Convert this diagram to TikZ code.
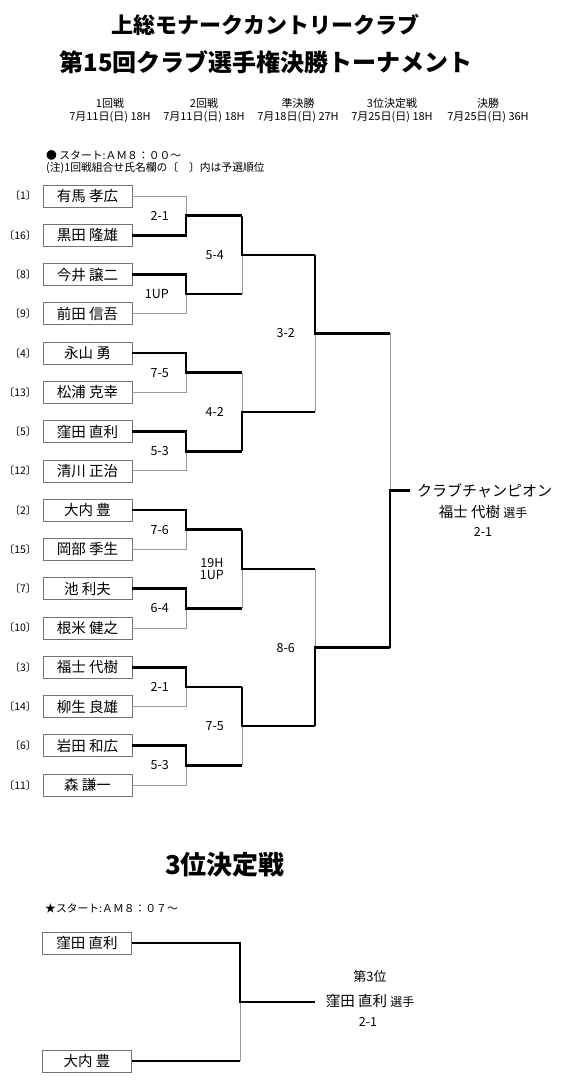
\documentclass[tikz,border=0pt]{standalone}
\usepackage{fontspec}
\setmainfont{Noto Sans CJK JP}
\usetikzlibrary{positioning, calc}

\begin{document}
\begin{tikzpicture}[x=1pt, y=-1pt,
    giocatore/.style={draw=black!55, line width=0.7pt, minimum width=89pt,
        minimum height=22pt, inner sep=0pt, font=\fontsize{14.5}{15}\selectfont},
    seme/.style={inner sep=0pt, font=\fontsize{10.5}{11}\selectfont},
    vincente/.style={line width=2.6pt, line join=miter},
    perdente/.style={draw=black!40, line width=0.8pt},
    risultato/.style={inner sep=0pt, align=center, font=\fontsize{12.5}{12.5}\selectfont},
    titolo/.style={inner sep=0pt, font=\fontsize{24}{26}\selectfont\bfseries},
    nota/.style={inner sep=0pt, anchor=west, font=\fontsize{10.8}{11}\selectfont},
    testata/.style={inner sep=0pt, font=\fontsize{11}{12}\selectfont}]
    % ==========================================
    % PARAMETRI GEOMETRICI
    % ==========================================
    \def\yTop{196}   % centro del primo riquadro
    \def\passo{39.27} % distanza tra i riquadri
    \def\xA{186}     % verticale 1 turno
    \def\xB{242}     % verticale 2 turno
    \def\xC{315}     % verticale semifinale
    \def\xD{390}     % verticale finale
    \def\xE{410}     % fine linea campione

    \useasboundingbox (0,0) rectangle (568,1091);
    \fill[white] (0,0) rectangle (568,1091);

    % ==========================================
    % MACRO PER UN INCONTRO
    % #1 = estremo del perdente
    % #2 = estremo del vincitore
    % #3 = punto di incontro
    % #4 = punto del turno seguente
    % ==========================================
    \newcommand{\incontro}[4]{
        \draw[perdente] (#1) -| (#3);
        \draw[vincente] (#2) -| (#3) -- (#4 |- #3);
    }

    % ==========================================
    % TITOLO E TESTATA
    % ==========================================
    \node[titolo, font=\fontsize{22}{26}\selectfont\bfseries] (titolo1) at (265,25) {上総モナークカントリークラブ};
    \node[titolo] (titolo2) at (266,62) {第15回クラブ選手権決勝トーナメント};

    \foreach \i/\xt/\turno/\giorno in {1/110/1回戦/7月11日(日) 18H,
        2/204/2回戦/7月11日(日) 18H, 3/298/準決勝/7月18日(日) 27H,
        4/392/3位決定戦/7月25日(日) 18H, 5/488/決勝/7月25日(日) 36H} {
        \node[testata] (turno\i) at (\xt,103) {\turno};
        \node[testata] (giorno\i) at (\xt,117) {\giorno};
    }

    \node[nota] (nota1) at (46,155) {● スタート:ＡＭ８：００～};
    \node[nota] (nota2) at (46,168) {(注)1回戦組合せ氏名欄の〔　〕内は予選順位};

    % ==========================================
    % GIOCATORI E PUNTI DI INCONTRO
    % ==========================================
    \foreach \n/\seme/\nome in {1/1/有馬 孝広, 2/16/黒田 隆雄, 3/8/今井 譲二,
        4/9/前田 信吾, 5/4/永山 勇, 6/13/松浦 克幸, 7/5/窪田 直利,
        8/12/清川 正治, 9/2/大内 豊, 10/15/岡部 季生, 11/7/池 利夫,
        12/10/根米 健之, 13/3/福士 代樹, 14/14/柳生 良雄, 15/6/岩田 和広,
        16/11/森 謙一} {
        \node[giocatore] (p\n) at (87.5,{\yTop+\passo*(\n-1)}) {\nome};
        \node[seme, left=6pt of p\n] (s\n) {〔\seme〕};
    }

    \foreach \k in {1,...,8}
        \coordinate (a\k) at (\xA,{\yTop+\passo*(2*\k-1.5)});
    \foreach \k in {1,...,4}
        \coordinate (b\k) at (\xB,{\yTop+\passo*(4*\k-2.5)});
    \foreach \k in {1,2}
        \coordinate (c\k) at (\xC,{\yTop+\passo*(8*\k-4.5)});
    \coordinate (d) at (\xD,{\yTop+\passo*7.5});
    \coordinate (e) at (\xE,{\yTop+\passo*7.5});

    % ==========================================
    % INCONTRI
    % ==========================================
    % 1 turno
    \incontro{p1.east}{p2.east}{a1}{b1}
    \incontro{p4.east}{p3.east}{a2}{b1}
    \incontro{p6.east}{p5.east}{a3}{b2}
    \incontro{p8.east}{p7.east}{a4}{b2}
    \incontro{p10.east}{p9.east}{a5}{b3}
    \incontro{p12.east}{p11.east}{a6}{b3}
    \incontro{p14.east}{p13.east}{a7}{b4}
    \incontro{p16.east}{p15.east}{a8}{b4}
    % 2 turno
    \incontro{b1 |- a2}{b1 |- a1}{b1}{c1}
    \incontro{b2 |- a3}{b2 |- a4}{b2}{c1}
    \incontro{b3 |- a6}{b3 |- a5}{b3}{c2}
    \incontro{b4 |- a8}{b4 |- a7}{b4}{c2}
    % semifinali e finale
    \incontro{c1 |- b2}{c1 |- b1}{c1}{d}
    \incontro{c2 |- b3}{c2 |- b4}{c2}{d}
    \incontro{d |- c1}{d |- c2}{d}{e}

    % Punteggi
    \foreach \k/\ris in {1/2-1, 2/1UP, 3/7-5, 4/5-3, 5/7-6, 6/6-4, 7/2-1, 8/5-3}
        \node[risultato, left=17pt of a\k] (ra\k) {\ris};
    \foreach \k/\ris in {1/5-4, 2/4-2, 3/19H\\1UP, 4/7-5}
        \node[risultato, left=18pt of b\k] (rb\k) {\ris};
    \foreach \k/\ris in {1/3-2, 2/8-6}
        \node[risultato, left=20pt of c\k] (rc\k) {\ris};

    % Campione
    \node[inner sep=0pt, right=7pt of e, font=\fontsize{15}{15}\selectfont]
        (campione) {クラブチャンピオン};
    \node[inner sep=0pt, font=\fontsize{14.5}{15}\selectfont] (vincitore) at (483,512)
        {福士 代樹 {\fontsize{12}{12}\selectfont 選手}};
    \node[risultato] (punteggio) at (483,532) {2-1};

    % ==========================================
    % 3 POSTO
    % ==========================================
    \node[titolo, font=\fontsize{26}{28}\selectfont\bfseries] (terzo) at (225,865) {3位決定戦};
    \node[nota] (nota3) at (45,908) {★スタート:ＡＭ８：０７～};

    \node[giocatore] (q1) at (87,943) {窪田 直利};
    \node[giocatore] (q2) at (87,1061) {大内 豊};
    \coordinate (f) at (240,1002);
    \coordinate (g) at (315,1002);

    \draw[vincente] (q2.east) -- (q2.east -| f);
    \draw[perdente] (q2.east -| f) -- (f);
    \draw[vincente] (q1.east) -| (f) -- (g);

    \node[inner sep=0pt, font=\fontsize{13}{13}\selectfont] (posto) at (370,977) {第3位};
    \node[inner sep=0pt, font=\fontsize{14.5}{15}\selectfont] (terzoNome) at (370,1001)
        {窪田 直利 {\fontsize{12}{12}\selectfont 選手}};
    \node[risultato] (terzoPunti) at (368,1022) {2-1};

\end{tikzpicture}
\end{document}
